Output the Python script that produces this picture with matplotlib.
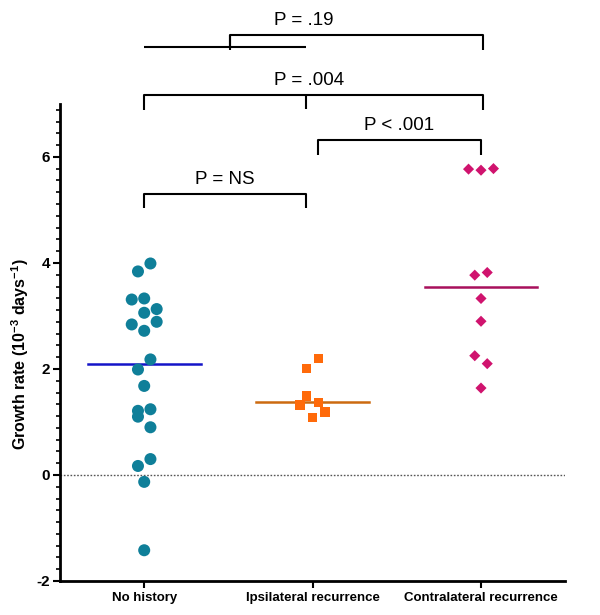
import numpy as np
import matplotlib.pyplot as plt
from matplotlib.ticker import MultipleLocator

plt.rcParams['font.family'] = ['Liberation Sans', 'DejaVu Sans']
plt.rcParams['mathtext.fontset'] = 'custom'
plt.rcParams['mathtext.rm'] = 'Liberation Sans'
plt.rcParams['mathtext.bf'] = 'Liberation Sans:bold'
plt.rcParams['mathtext.default'] = 'bf'

# categories
groups = ['No history', 'Ipsilateral recurrence', 'Contralateral recurrence']

# growth rates (10^-3 days^-1)
no_history = [3.99, 3.84, 3.31, 3.33, 3.13, 3.06, 2.84, 2.89, 2.72, 2.18,
              1.99, 1.68, 1.21, 1.24, 1.10, 0.90, 0.30, 0.17, -0.13, -1.42]
ipsilateral = [2.20, 2.01, 1.49, 1.32, 1.37, 1.19, 1.09]
contralateral = [5.77, 5.75, 5.78, 3.77, 3.82, 3.33, 2.90, 2.25, 2.10, 1.64]

# horizontal spread of the points (in steps of the swarm width)
no_history_slot = [1, -1, -2, 0, 2, 0, -2, 2, 0, 1, -1, 0, -1, 1, -1, 1, 1, -1, 0, 0]
ipsilateral_slot = [1, -1, -1, -2, 1, 2, 0]
contralateral_slot = [-2, 0, 2, -1, 1, 0, 0, -1, 1, 0]

# comparison labels
p_labels = ['P = NS', 'P < .001', 'P = .004', 'P = .19']

colors = ['#0f7f99', '#ff6a0a', '#d0136e']
line_colors = ['#1414c8', '#cc6a10', '#a8105c']
markers = ['o', 's', 'D']
sizes = [75, 45, 32]

fig = plt.figure(figsize=(6, 6.15), dpi=100)
ax = fig.add_axes([0.1, 0.0553, 0.842, 0.7757])

step = 0.037
data = [no_history, ipsilateral, contralateral]
slots = [no_history_slot, ipsilateral_slot, contralateral_slot]
for i, (vals, sl) in enumerate(zip(data, slots)):
    x = i + step * np.array(sl)
    ax.scatter(x, vals, s=sizes[i], marker=markers[i], color=colors[i],
               edgecolors='none', zorder=3)
    med = np.median(vals)
    ax.plot([i - 0.335, i + 0.335], [med, med], color=line_colors[i], lw=1.8, zorder=2)

ax.axhline(0, color='#555555', lw=1.0, ls=(0, (1.2, 1.2)), zorder=1)

ax.set_xlim(-0.5, 2.5)
ax.set_ylim(-2, 7)
ax.set_xticks(range(3))
ax.set_xticklabels(groups, fontsize=9.5, fontweight='bold')
ax.set_yticks([-2, 0, 2, 4, 6])
ax.set_yticklabels(['-2', '0', '2', '4', '6'], fontsize=11, fontweight='bold')
ax.yaxis.set_minor_locator(MultipleLocator(2 / 9))
ax.tick_params(axis='y', which='major', length=5, width=1.5, pad=2)
ax.tick_params(axis='y', which='minor', length=3, width=1.2)
ax.tick_params(axis='x', length=5, width=1.5, pad=3)

for side in ['top', 'right']:
    ax.spines[side].set_visible(False)
for side in ['left', 'bottom']:
    ax.spines[side].set_linewidth(2)

ax.set_ylabel('Growth rate (10$^{-3}$ days$^{-1}$)', fontsize=11.5, fontweight='bold')
ax.yaxis.set_label_coords(-0.058, 0.475)


def bracket(x1, x2, y, h, label, tx=None, ty=0.12):
    kw = dict(color='black', lw=1.5, clip_on=False, solid_capstyle='butt')
    ax.plot([x1, x1, x2, x2], [y - h, y, y, y - h], **kw)
    if tx is None:
        tx = (x1 + x2) / 2
    ax.text(tx, y + ty, label, ha='center', va='bottom', fontsize=13.5, clip_on=False)


kw = dict(color='black', lw=1.5, clip_on=False, solid_capstyle='butt')
bracket(0, 0.96, 5.30, 0.27, p_labels[0])
bracket(1.03, 2.0, 6.32, 0.28, p_labels[1])
bracket(0, 2.01, 7.17, 0.28, p_labels[2], tx=0.98)
ax.plot([0.96, 0.96], [7.17, 6.90], **kw)
ax.plot([0, 0.96], [8.08, 8.08], **kw)
bracket(0.51, 2.01, 8.30, 0.29, p_labels[3], tx=0.95)
ax.plot([0.51, 0.51], [8.30, 8.08], **kw)

fig.savefig('out.png', dpi=100)
